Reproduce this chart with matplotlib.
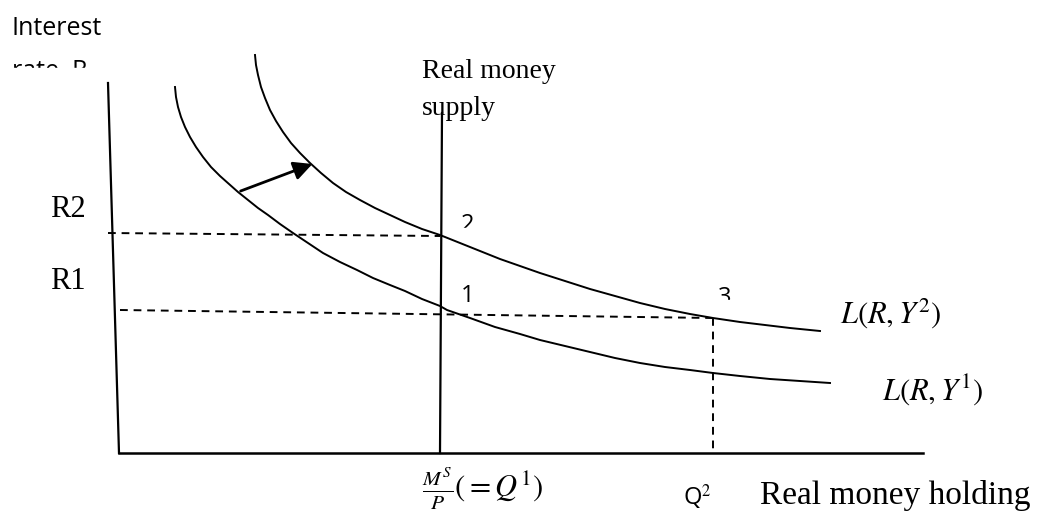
import matplotlib.pyplot as plt
from matplotlib.patches import Rectangle

plt.rcParams['mathtext.fontset'] = 'stix'

# curve points (pixel coords, y downwards)
l1_x = [175, 176, 178, 181, 185, 190, 196, 203, 211, 220, 229, 238, 248, 258, 268, 280,
        293, 308, 323, 340, 357, 373, 390, 405, 422, 440, 447, 470, 495, 520, 540, 565,
        590, 615, 640, 665, 690, 713, 740, 770, 800, 830]
l1_y = [87, 97, 107, 117, 127, 137, 147, 157, 167, 176, 184, 192, 200, 208, 215, 224,
        233, 243, 253, 262, 270, 278, 285, 291, 299, 306, 310, 318, 327, 334, 340, 346,
        352, 358, 363, 367, 370, 373, 376, 379, 381, 383]
l2_x = [255, 256, 258, 261, 265, 270, 276, 283, 291, 300, 310, 321, 333, 346, 360, 375,
        390, 405, 422, 440, 460, 480, 500, 520, 540, 565, 590, 615, 640, 665, 690, 713,
        740, 765, 790, 820]
l2_y = [55, 65, 75, 87, 98, 110, 121, 132, 143, 153, 163, 173, 183, 192, 200, 208,
        215, 222, 229, 235, 243, 251, 259, 266, 273, 281, 289, 296, 303, 309, 314, 318,
        322, 325, 328, 331]

yaxis_x, yaxis_y = [108, 119], [83, 453]
xaxis_x, xaxis_y = [119, 923], [453, 453]
supply_x, supply_y = [442, 440], [113, 453]

r2_x, r2_y = [108, 440], [233, 236]
r1_x, r1_y = [120, 713], [310, 318]
q2_x, q2_y = [713, 713], [318, 453]

shift_from = (238, 192)
shift_to = (315, 163)

fig = plt.figure(figsize=(10.49, 5.12), dpi=100)
ax = fig.add_axes([0, 0, 1, 1])
ax.set_xlim(0, 1049)
ax.set_ylim(512, 0)
ax.axis('off')

ax.plot(yaxis_x, yaxis_y, color='black', lw=1.6, zorder=4)
ax.plot(xaxis_x, xaxis_y, color='black', lw=1.8, zorder=4)
ax.plot(supply_x, supply_y, color='black', lw=1.6, zorder=4)
ax.plot(l1_x, l1_y, color='black', lw=1.4, zorder=4)
ax.plot(l2_x, l2_y, color='black', lw=1.4, zorder=4)
for xs, ys in [(r2_x, r2_y), (r1_x, r1_y), (q2_x, q2_y)]:
    ax.plot(xs, ys, color='black', lw=1.4, ls=(0, (4, 3)), zorder=4)

ax.annotate('', xy=shift_to, xytext=shift_from, zorder=4,
            arrowprops=dict(arrowstyle='-|>', lw=2, color='black', mutation_scale=28))

sans = 'Open Sans'
serif = 'Liberation Serif'
ax.text(12, 35, 'Interest', family=sans, fontsize=18, va='baseline')
ax.text(12, 78, 'rate, R', family=sans, fontsize=18, va='baseline')
ax.add_patch(Rectangle((0, 68), 110, 20, color='white', zorder=3.5))

ax.text(50, 217, 'R2', family=serif, fontsize=22, va='baseline')
ax.text(50, 289, 'R1', family=serif, fontsize=22, va='baseline')

ax.text(422, 78, 'Real money', family=serif, fontsize=20, va='baseline')
ax.text(422, 115, 'supply', family=serif, fontsize=20, va='baseline')

ax.text(461, 231, '2', family=sans, fontsize=17, va='baseline')
ax.add_patch(Rectangle((455, 228), 30, 8, color='white', zorder=3.5))
ax.text(461, 302, '1', family=sans, fontsize=17, va='baseline')
ax.text(718, 304, '3', family=sans, fontsize=17, va='baseline')
ax.add_patch(Rectangle((712, 300), 30, 10, color='white', zorder=3.5))

ax.text(840, 323, r'$L(R,Y^2)$', fontsize=22, va='baseline')
ax.text(882, 399, r'$L(R,Y^1)$', fontsize=22, va='baseline')

ax.text(422, 498, r'$\frac{M^S}{P}(=Q^1)$', fontsize=22, va='baseline')
ax.text(683, 505, r'Q$^2$', family=sans, fontsize=17, va='baseline')
ax.text(760, 504, 'Real money holding', family=serif, fontsize=24, va='baseline')

fig.savefig('out.png', dpi=100)
